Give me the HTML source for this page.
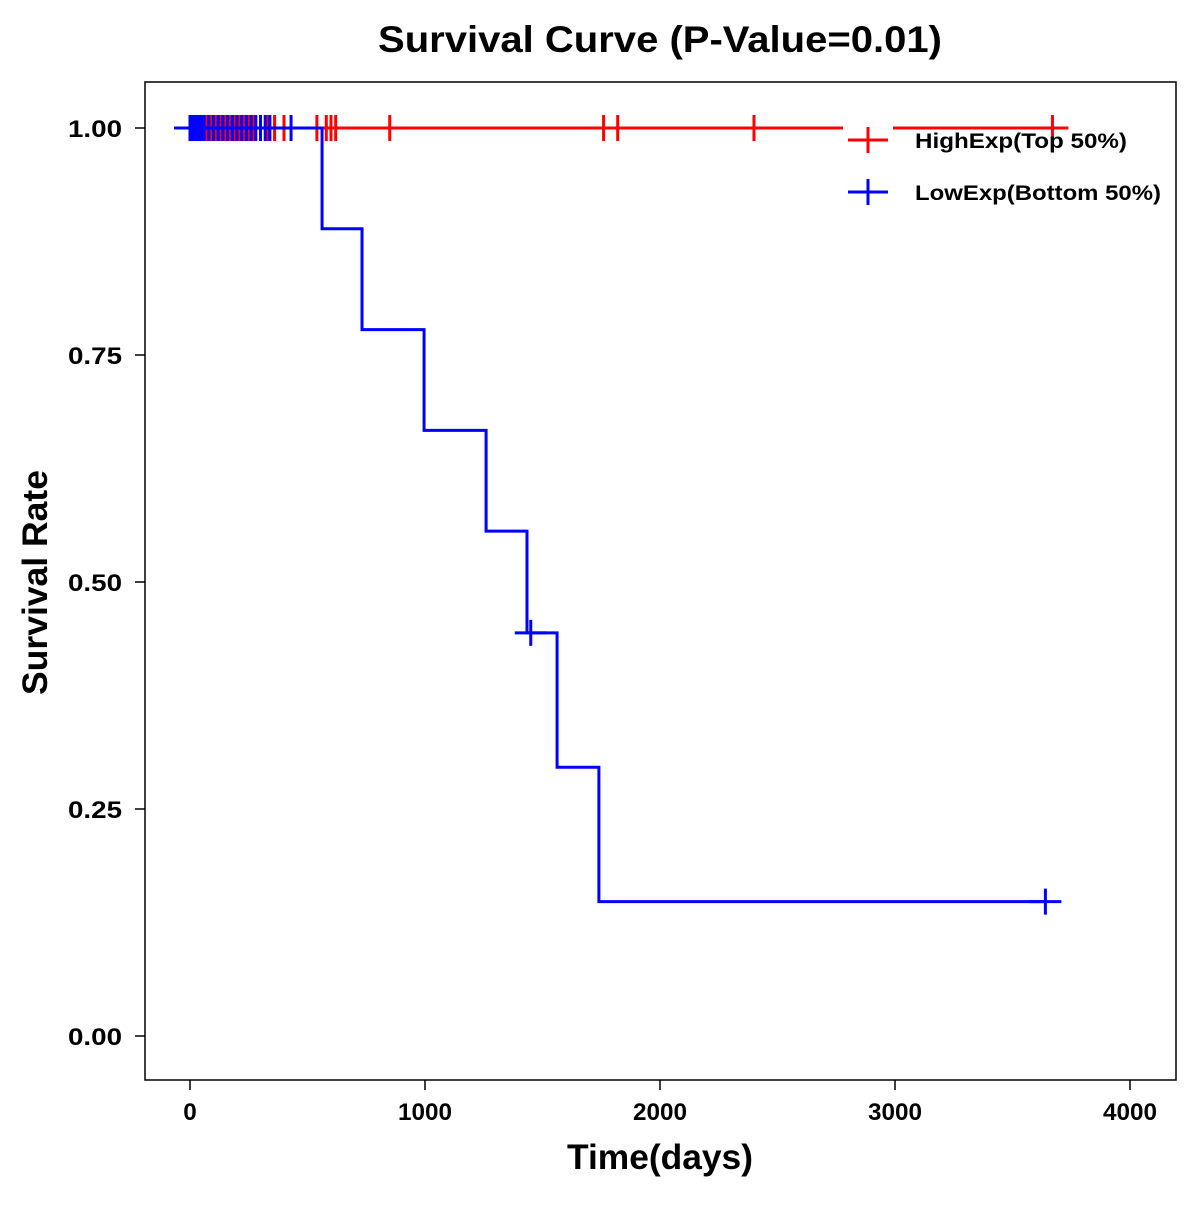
<!DOCTYPE html>
<html><head><meta charset="utf-8"><style>
body{margin:0;background:#fff}
svg text{font-family:"Liberation Sans",Arial,sans-serif;font-weight:bold}
</style></head><body>
<svg id="chart" width="1200" height="1200" xmlns="http://www.w3.org/2000/svg">
<rect width="1200" height="1200" fill="#fff"/>
<text x="378" y="52" font-size="37" textLength="564" lengthAdjust="spacingAndGlyphs">Survival Curve (P-Value=0.01)</text>
<rect x="145" y="82" width="1031" height="998" fill="none" stroke="#000" stroke-width="1.5"/>
<g id="axes"></g>
<g id="series"></g>
<rect x="843" y="116" width="50" height="95" fill="#fff"/>
<g>
<line x1="848" y1="140" x2="888" y2="140" stroke="#f00" stroke-width="3"/>
<line x1="868" y1="127" x2="868" y2="153" stroke="#f00" stroke-width="3"/>
<text x="915" y="148" font-size="21" textLength="212" lengthAdjust="spacingAndGlyphs">HighExp(Top 50%)</text></g>
<g>
<line x1="848" y1="192" x2="888" y2="192" stroke="#00f" stroke-width="3"/>
<line x1="868" y1="179" x2="868" y2="205" stroke="#00f" stroke-width="3"/>
<text x="915" y="200" font-size="21" textLength="246" lengthAdjust="spacingAndGlyphs">LowExp(Bottom 50%)</text></g>
<text x="567" y="1169" font-size="35" textLength="186" lengthAdjust="spacingAndGlyphs">Time(days)</text>
<text transform="translate(47,695) rotate(-90)" font-size="35" textLength="225" lengthAdjust="spacingAndGlyphs">Survival Rate</text>
</svg>
<script>
const xTicks=[0,1000,2000,3000,4000];
const yTicks=[0,0.25,0.5,0.75,1];
const yTickLabels=["0.00","0.25","0.50","0.75","1.00"];
const highEnd=3700;
const highCensor=[10,25,40,55,70,90,110,130,150,170,190,210,230,250,270,300,330,360,400,540,580,600,620,850,1760,1820,2400,3670];
const lowTimes=[0,562,732,996,1260,1434,1562,1740,3640];
const lowSurv=[1,0.889,0.778,0.667,0.556,0.444,0.296,0.148,0.148];
const lowCensor=[0,10,20,30,40,50,60,80,100,120,140,160,180,200,220,240,260,280,300,320,340,430,1450,3640];
const X=t=>190+t*0.235, Y=s=>1036-s*908;
const NS="http://www.w3.org/2000/svg";
function mk(p,tag,a){const e=document.createElementNS(NS,tag);for(const k in a)e.setAttribute(k,a[k]);p.appendChild(e);return e;}
const ax=document.getElementById('axes'), se=document.getElementById('series');
xTicks.forEach(t=>{mk(ax,'line',{x1:X(t),x2:X(t),y1:1080,y2:1090,stroke:'#000','stroke-width':1.5});
 const s=String(t);
 const tx=mk(ax,'text',{x:X(t),y:1120,'font-size':24,'text-anchor':'middle',textLength:s.length*13.5,lengthAdjust:'spacingAndGlyphs'});tx.textContent=s;
 
 });
yTicks.forEach((v,i)=>{mk(ax,'line',{x1:135,x2:145,y1:Y(v),y2:Y(v),stroke:'#000','stroke-width':1.5});
 const tx=mk(ax,'text',{x:122,y:Y(v)+9,'font-size':24,'text-anchor':'end',textLength:54,lengthAdjust:'spacingAndGlyphs'});tx.textContent=yTickLabels[i];
 
 });
function cross(g,t,s,c){mk(g,'line',{x1:X(t)-16,x2:X(t)+16,y1:Y(s),y2:Y(s),stroke:c,'stroke-width':3});
 mk(g,'line',{x1:X(t),x2:X(t),y1:Y(s)-13,y2:Y(s)+13,stroke:c,'stroke-width':3});}
const hg=mk(se,'g',{});


mk(hg,'line',{x1:X(0),x2:X(highEnd),y1:Y(1),y2:Y(1),stroke:'#f00','stroke-width':3});
highCensor.forEach(t=>cross(hg,t,1,'#f00'));
const lg=mk(se,'g',{});


let d=`M${X(0)-12},${Y(1)}`;
for(let i=1;i<lowTimes.length;i++){d+=` H${X(lowTimes[i])} V${Y(lowSurv[i])}`;}
mk(lg,'path',{d:d,fill:'none',stroke:'#00f','stroke-width':3});
lowCensor.forEach(t=>{let s=1;for(let i=0;i<lowTimes.length;i++)if(lowTimes[i]<t||(i==0))s=lowSurv[i];cross(lg,t,s,'#00f');});
</script>
</body></html>
